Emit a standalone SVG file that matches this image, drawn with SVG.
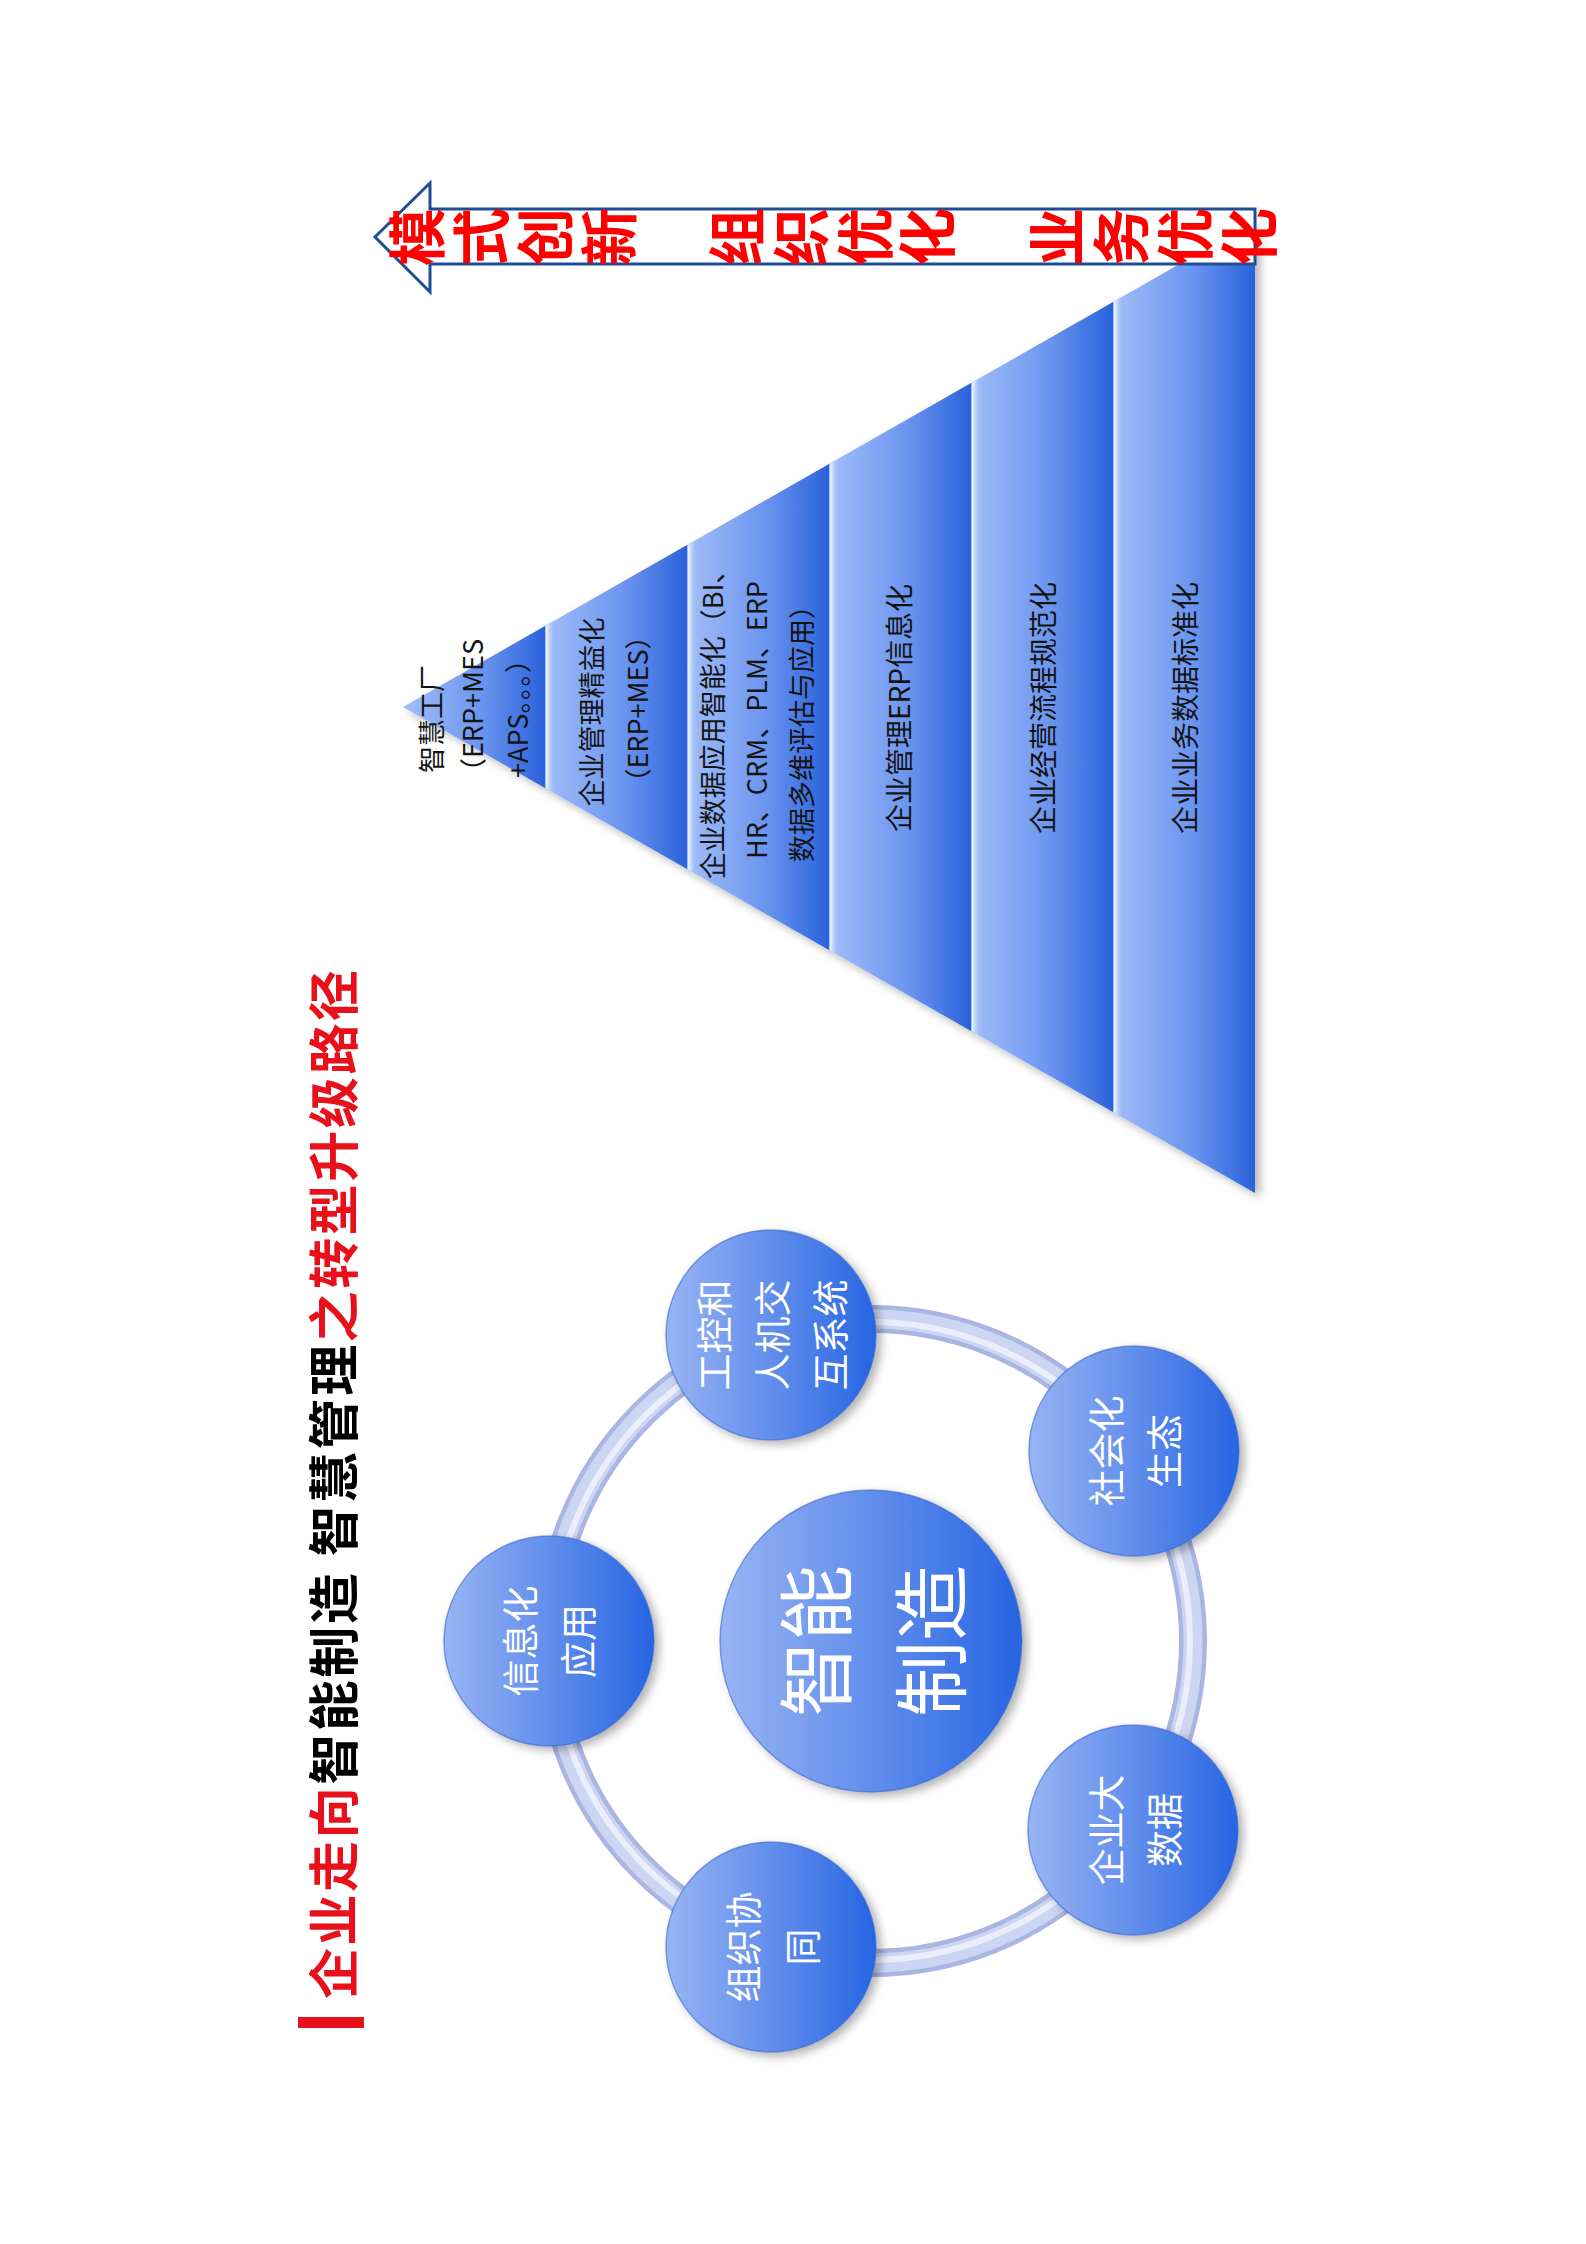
<svg xmlns="http://www.w3.org/2000/svg" width="1586" height="2244" viewBox="0 0 1586 2244">
<defs>
<style>
.f{font-family:"Noto Sans CJK SC","Noto Sans",sans-serif}
.pt{font-size:27px;fill:#141414;text-anchor:middle;dominant-baseline:central}
.pt2{font-size:28px;fill:#141414;text-anchor:middle;dominant-baseline:central}
.ct{font-size:37px;fill:#ffffff;text-anchor:middle;dominant-baseline:central}
.bt{font-size:76px;fill:#ffffff;text-anchor:middle;dominant-baseline:central}
.al{font-size:58px;font-weight:bold;fill:#ff0000;text-anchor:middle;dominant-baseline:central}
.ti{font-size:51px;font-weight:bold;dominant-baseline:central}
.band{fill:url(#gBand)}
.hl{fill:url(#gHl)}
.node{fill:url(#gCir);stroke:#3d68cf;stroke-width:1.5;stroke-opacity:0.6}
</style>
<linearGradient id="gBand" x1="0" y1="0" x2="0" y2="1">
<stop offset="0" stop-color="#a2bef9"/>
<stop offset="0.55" stop-color="#6b95ef"/>
<stop offset="1" stop-color="#2a62dc"/>
</linearGradient>
<linearGradient id="gHl" x1="0" y1="0" x2="0" y2="1">
<stop offset="0" stop-color="#f0fbff"/>
<stop offset="1" stop-color="#b4cdfa" stop-opacity="0"/>
</linearGradient>
<linearGradient id="gCir" x1="0" y1="0" x2="0" y2="1">
<stop offset="0" stop-color="#98b4f3"/>
<stop offset="0.5" stop-color="#628eec"/>
<stop offset="1" stop-color="#2665e2"/>
</linearGradient>
<filter id="sh" x="-20%" y="-20%" width="140%" height="140%">
<feDropShadow dx="-4" dy="5" stdDeviation="5" flood-color="#000" flood-opacity="0.3"/>
</filter>
</defs>
<rect width="1586" height="2244" fill="#ffffff"/>
<g transform="translate(0 2244) rotate(-90)">
  <g id="title" class="f">
    <rect x="216" y="298" width="11" height="66" fill="#e8101a"/>
    <text class="f ti" x="245" y="331" textLength="1029" lengthAdjust="spacing"><tspan fill="#e8101a">企业走向</tspan><tspan fill="#000000">智能制造 智慧管理</tspan><tspan fill="#e8101a">之转型升级路径</tspan></text>
  </g>
  <g id="pyramid" filter="url(#sh)">
    <polygon class="band" points="1537,403 1618,545 1456,545"/>
    <polygon class="band" points="1456,545 1618,545 1699,687 1375,687"/>
    <polygon class="band" points="1375,687 1699,687 1780,829 1294,829"/>
    <polygon class="band" points="1294,829 1780,829 1861,971 1213,971"/>
    <polygon class="band" points="1213,971 1861,971 1942,1113 1132,1113"/>
    <polygon class="band" points="1132,1113 1942,1113 2023,1255 1051,1255"/>
  </g>
  <g id="pyramid-highlights">
    <polygon class="hl" points="1456,546 1618,546 1623,554 1451,554"/>
    <polygon class="hl" points="1375,688 1699,688 1704,696 1370,696"/>
    <polygon class="hl" points="1294,830 1780,830 1785,838 1289,838"/>
    <polygon class="hl" points="1213,972 1861,972 1866,980 1208,980"/>
    <polygon class="hl" points="1132,1114 1942,1114 1947,1122 1127,1122"/>
  </g>
  <g id="layer1" class="f">
    <text class="f pt" x="1525" y="430">智慧工厂</text>
    <text class="f pt" x="1532" y="471">（ERP+MES</text>
    <text class="f pt" x="1532" y="516">+APS。。。）</text>
  </g>
  <g id="layer2" class="f">
    <text class="f pt" x="1532" y="590">企业管理精益化</text>
    <text class="f pt" x="1535" y="636">（ERP+MES）</text>
  </g>
  <g id="layer3" class="f">
    <text class="f pt" x="1526" y="711">企业数据应用智能化（BI、</text>
    <text class="f pt" x="1524" y="755">HR、CRM、PLM、ERP</text>
    <text class="f pt" x="1517" y="800">数据多维评估与应用）</text>
  </g>
  <g id="layer4" class="f"><text class="f pt2" x="1536" y="898">企业管理ERP信息化</text></g>
  <g id="layer5" class="f"><text class="f pt2" x="1536" y="1042">企业经营流程规范化</text></g>
  <g id="layer6" class="f"><text class="f pt2" x="1536" y="1184">企业业务数据标准化</text></g>
  <g id="arrow">
    <polygon points="1980,1255 1980,430 1952,430 2007,375 2061,430 2035,430 2035,1255" fill="#ffffff" stroke="#1f4e96" stroke-width="3" stroke-linejoin="miter"/>
    <text class="f al"><tspan x="2007" y="414">模</tspan><tspan x="2007" y="478">式</tspan><tspan x="2007" y="542">创</tspan><tspan x="2007" y="606">新</tspan></text>
    <text class="f al"><tspan x="2007" y="734">组</tspan><tspan x="2007" y="798">织</tspan><tspan x="2007" y="862">优</tspan><tspan x="2007" y="924">化</tspan></text>
    <text class="f al"><tspan x="2007" y="1054">业</tspan><tspan x="2007" y="1118">务</tspan><tspan x="2007" y="1182">优</tspan><tspan x="2007" y="1246">化</tspan></text>
  </g>
  <g id="ring">
    <circle cx="603" cy="871" r="322" fill="none" stroke="#aab5e2" stroke-width="28"/>
    <circle cx="603" cy="871" r="322" fill="none" stroke="#ccd5f2" stroke-width="19"/>
    <circle cx="603" cy="871" r="319" fill="none" stroke="#eaeefb" stroke-width="6"/>
  </g>
  <g id="center-node">
    <circle class="node" cx="603" cy="871" r="151" filter="url(#sh)"/>
    <text class="f bt" x="603" y="812">智能</text>
    <text class="f bt" x="603" y="927">制造</text>
  </g>
  <g id="node-xinxihua">
    <circle class="node" cx="603" cy="549" r="105" filter="url(#sh)"/>
    <text class="f ct" x="603" y="519">信息化</text>
    <text class="f ct" x="603" y="577">应用</text>
  </g>
  <g id="node-gongkong">
    <circle class="node" cx="909" cy="771" r="105" filter="url(#sh)"/>
    <text class="f ct" x="909" y="713">工控和</text>
    <text class="f ct" x="909" y="771">人机交</text>
    <text class="f ct" x="909" y="829">互系统</text>
  </g>
  <g id="node-shehuihua">
    <circle class="node" cx="793" cy="1134" r="105" filter="url(#sh)"/>
    <text class="f ct" x="793" y="1105">社会化</text>
    <text class="f ct" x="793" y="1163">生态</text>
  </g>
  <g id="node-dashuju">
    <circle class="node" cx="414" cy="1133" r="105" filter="url(#sh)"/>
    <text class="f ct" x="414" y="1105">企业大</text>
    <text class="f ct" x="414" y="1163">数据</text>
  </g>
  <g id="node-zuzhi">
    <circle class="node" cx="297" cy="771" r="105" filter="url(#sh)"/>
    <text class="f ct" x="297" y="742">组织协</text>
    <text class="f ct" x="297" y="801">同</text>
  </g>
</g>
</svg>
